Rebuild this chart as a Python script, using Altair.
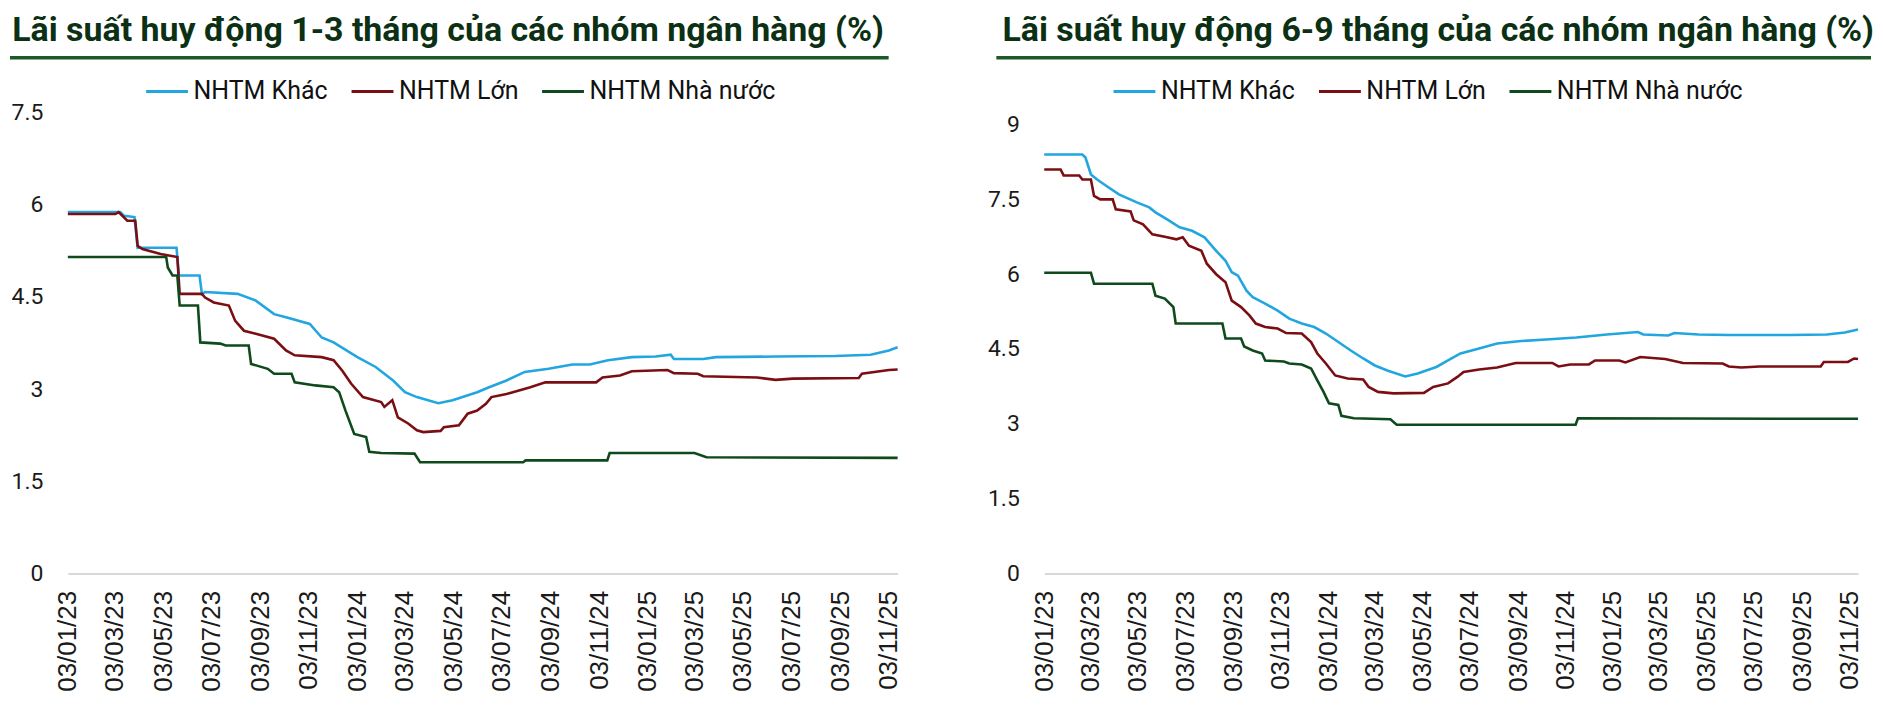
import altair as alt
import pandas as pd

SERIES = ["NHTM Khác", "NHTM Lớn", "NHTM Nhà nước"]
COLORS = ["#22a6df", "#7b0e12", "#0f4a1c"]

TITLE_LEFT = "Lãi suất huy động 1-3 tháng của các nhóm ngân hàng (%)"
TITLE_RIGHT = "Lãi suất huy động 6-9 tháng của các nhóm ngân hàng (%)"

TICK_DATES = ["2023-01-03", "2023-03-03", "2023-05-03", "2023-07-03", "2023-09-03", "2023-11-03",
              "2024-01-03", "2024-03-03", "2024-05-03", "2024-07-03", "2024-09-03", "2024-11-03",
              "2025-01-03", "2025-03-03", "2025-05-03", "2025-07-03", "2025-09-03", "2025-11-03"]
X_START = "2023-01-03"
X_END = "2025-11-14"

Y_TICKS_LEFT = [0, 1.5, 3, 4.5, 6, 7.5]
Y_TICKS_RIGHT = [0, 1.5, 3, 4.5, 6, 7.5, 9]

# ---- 1-3 month deposit rates ----
KHAC13_DATES = ["2023-01-03", "2023-03-10", "2023-03-15", "2023-03-28", "2023-04-01", "2023-05-20",
                "2023-05-23", "2023-06-18", "2023-06-21", "2023-06-25", "2023-08-05", "2023-08-28",
                "2023-09-20", "2023-10-05", "2023-11-04", "2023-11-19", "2023-12-04", "2024-01-03",
                "2024-01-26", "2024-02-17", "2024-03-03", "2024-03-18", "2024-04-14", "2024-05-02",
                "2024-06-02", "2024-06-17", "2024-07-09", "2024-08-01", "2024-08-31", "2024-09-30",
                "2024-10-22", "2024-11-14", "2024-12-14", "2025-01-13", "2025-02-01", "2025-02-05",
                "2025-03-14", "2025-03-30", "2025-06-13", "2025-08-27", "2025-10-11", "2025-11-03",
                "2025-11-14"]
KHAC13_VALUES = [5.88, 5.88, 5.82, 5.80, 5.30, 5.30, 4.85, 4.85, 4.55, 4.58, 4.55, 4.44, 4.22, 4.17,
                 4.06, 3.84, 3.76, 3.52, 3.36, 3.14, 2.95, 2.87, 2.77, 2.82, 2.95, 3.03, 3.14, 3.28,
                 3.33, 3.40, 3.40, 3.47, 3.52, 3.53, 3.56, 3.49, 3.49, 3.52, 3.53, 3.54, 3.56, 3.63,
                 3.68]

LON13_DATES = ["2023-01-03", "2023-03-04", "2023-03-08", "2023-03-19", "2023-03-29", "2023-04-01",
               "2023-04-07", "2023-04-30", "2023-05-21", "2023-05-24", "2023-06-21", "2023-06-25",
               "2023-07-06", "2023-07-25", "2023-08-02", "2023-08-13", "2023-08-28", "2023-09-20",
               "2023-10-05", "2023-10-16", "2023-11-19", "2023-12-04", "2023-12-15", "2023-12-26",
               "2024-01-10", "2024-02-02", "2024-02-06", "2024-02-16", "2024-02-23", "2024-03-07",
               "2024-03-18", "2024-03-26", "2024-04-17", "2024-04-21", "2024-05-10", "2024-05-21",
               "2024-06-02", "2024-06-13", "2024-06-20", "2024-07-09", "2024-07-17", "2024-08-08",
               "2024-08-27", "2024-10-30", "2024-11-07", "2024-11-29", "2024-12-14", "2025-01-28",
               "2025-02-05", "2025-03-07", "2025-03-14", "2025-05-21", "2025-06-13", "2025-07-05",
               "2025-09-26", "2025-09-30", "2025-11-03", "2025-11-14"]
LON13_VALUES = [5.85, 5.85, 5.88, 5.74, 5.74, 5.33, 5.28, 5.20, 5.15, 4.55, 4.55, 4.49, 4.41, 4.36,
                4.11, 3.95, 3.90, 3.82, 3.63, 3.55, 3.52, 3.47, 3.30, 3.09, 2.87, 2.79, 2.71, 2.82,
                2.54, 2.44, 2.33, 2.30, 2.32, 2.38, 2.41, 2.60, 2.65, 2.76, 2.87, 2.92, 2.95, 3.03,
                3.11, 3.11, 3.19, 3.22, 3.29, 3.31, 3.26, 3.25, 3.21, 3.19, 3.15, 3.17, 3.18, 3.25,
                3.31, 3.32]

NN13_DATES = ["2023-01-03", "2023-05-07", "2023-05-09", "2023-05-15", "2023-05-21", "2023-05-24",
              "2023-06-16", "2023-06-19", "2023-07-14", "2023-07-21", "2023-08-19", "2023-08-22",
              "2023-09-12", "2023-09-20", "2023-10-12", "2023-10-16", "2023-11-11", "2023-12-04",
              "2023-12-11", "2023-12-19", "2023-12-30", "2024-01-14", "2024-01-18", "2024-02-02",
              "2024-03-15", "2024-03-22", "2024-07-30", "2024-08-02", "2024-11-13", "2024-11-16",
              "2025-03-03", "2025-03-18", "2025-11-14"]
NN13_VALUES = [5.15, 5.15, 4.98, 4.85, 4.85, 4.36, 4.36, 3.76, 3.74, 3.71, 3.71, 3.41, 3.33, 3.25,
               3.25, 3.11, 3.06, 3.03, 2.95, 2.65, 2.27, 2.22, 1.98, 1.96, 1.95, 1.81, 1.81, 1.84,
               1.84, 1.96, 1.96, 1.89, 1.88]

# ---- 6-9 month deposit rates ----
KHAC69_DATES = ["2023-01-03", "2023-02-21", "2023-02-25", "2023-03-04", "2023-03-12", "2023-03-24",
                "2023-04-09", "2023-05-02", "2023-05-18", "2023-05-26", "2023-06-10", "2023-06-26",
                "2023-07-12", "2023-07-28", "2023-08-12", "2023-08-24", "2023-09-01", "2023-09-09",
                "2023-09-20", "2023-09-28", "2023-10-14", "2023-10-30", "2023-11-14", "2023-11-30",
                "2023-12-16", "2023-12-31", "2024-01-16", "2024-02-01", "2024-02-17", "2024-03-03",
                "2024-03-19", "2024-04-11", "2024-04-27", "2024-05-21", "2024-06-05", "2024-06-21",
                "2024-07-15", "2024-08-07", "2024-09-07", "2024-10-09", "2024-11-17", "2024-12-26",
                "2025-02-04", "2025-02-11", "2025-03-15", "2025-03-23", "2025-04-23", "2025-06-01",
                "2025-08-19", "2025-10-05", "2025-10-28", "2025-11-14"]
KHAC69_VALUES = [8.40, 8.40, 8.34, 8.00, 7.90, 7.77, 7.60, 7.44, 7.34, 7.24, 7.10, 6.94, 6.87, 6.74,
                 6.47, 6.27, 6.04, 5.97, 5.67, 5.54, 5.41, 5.27, 5.11, 5.01, 4.94, 4.81, 4.64, 4.47,
                 4.31, 4.17, 4.07, 3.95, 4.01, 4.14, 4.27, 4.41, 4.51, 4.61, 4.66, 4.69, 4.73, 4.79,
                 4.84, 4.79, 4.77, 4.82, 4.79, 4.78, 4.78, 4.79, 4.83, 4.89]

LON69_DATES = ["2023-01-03", "2023-01-24", "2023-01-28", "2023-02-17", "2023-02-21", "2023-03-04",
               "2023-03-08", "2023-03-16", "2023-04-01", "2023-04-05", "2023-04-24", "2023-04-28",
               "2023-05-10", "2023-05-22", "2023-06-07", "2023-06-22", "2023-06-30", "2023-07-08",
               "2023-07-24", "2023-07-31", "2023-08-12", "2023-08-24", "2023-09-01", "2023-09-13",
               "2023-09-24", "2023-10-02", "2023-10-14", "2023-10-30", "2023-11-10", "2023-11-30",
               "2023-12-12", "2023-12-20", "2023-12-31", "2024-01-12", "2024-01-28", "2024-02-17",
               "2024-02-24", "2024-03-07", "2024-03-27", "2024-05-05", "2024-05-17", "2024-06-05",
               "2024-06-17", "2024-06-25", "2024-07-15", "2024-08-07", "2024-08-31", "2024-10-17",
               "2024-10-25", "2024-11-09", "2024-12-03", "2024-12-11", "2025-01-11", "2025-01-19",
               "2025-02-07", "2025-03-11", "2025-04-03", "2025-05-24", "2025-06-01", "2025-06-17",
               "2025-07-10", "2025-09-27", "2025-10-01", "2025-11-01", "2025-11-09", "2025-11-14"]
LON69_VALUES = [8.10, 8.10, 7.98, 7.98, 7.90, 7.90, 7.57, 7.50, 7.50, 7.30, 7.26, 7.08, 7.00, 6.80,
                6.75, 6.70, 6.74, 6.57, 6.47, 6.21, 6.00, 5.84, 5.47, 5.34, 5.17, 5.01, 4.94, 4.91,
                4.82, 4.81, 4.64, 4.41, 4.21, 3.97, 3.91, 3.89, 3.74, 3.64, 3.61, 3.62, 3.74, 3.81,
                3.94, 4.04, 4.09, 4.13, 4.22, 4.22, 4.15, 4.19, 4.19, 4.27, 4.27, 4.23, 4.34, 4.30,
                4.22, 4.21, 4.15, 4.13, 4.15, 4.15, 4.24, 4.24, 4.31, 4.30]

NN69_DATES = ["2023-01-03", "2023-03-04", "2023-03-08", "2023-05-22", "2023-05-26", "2023-06-07",
              "2023-06-18", "2023-06-21", "2023-08-20", "2023-08-24", "2023-09-13", "2023-09-17",
              "2023-09-28", "2023-10-10", "2023-10-14", "2023-11-07", "2023-11-14", "2023-11-30",
              "2023-12-12", "2023-12-20", "2023-12-28", "2024-01-04", "2024-01-16", "2024-01-20",
              "2024-02-05", "2024-03-23", "2024-03-31", "2024-11-16", "2024-11-19", "2025-11-14"]
NN69_VALUES = [6.03, 6.03, 5.81, 5.81, 5.57, 5.51, 5.34, 5.01, 5.01, 4.71, 4.71, 4.55, 4.47, 4.41,
               4.27, 4.25, 4.21, 4.19, 4.11, 3.87, 3.64, 3.41, 3.38, 3.16, 3.11, 3.09, 2.98, 2.98,
               3.11, 3.10]


def to_ms(s):
    return int(pd.Timestamp(s, tz="UTC").value // 10**6)


def build_frame(date_lists, value_lists):
    rows = []
    for name, dates, vals in zip(SERIES, date_lists, value_lists):
        for d, v in zip(dates, vals):
            rows.append({"date": d, "value": v, "series": name})
    return pd.DataFrame(rows)


TICK_MS = [to_ms(d) for d in TICK_DATES]
X_DOMAIN = [to_ms(X_START), to_ms(X_END)]

TITLE_COLOR = "#0b3014"
RULE_COLOR = "#1b5a27"
HEIGHT = 462


def panel(df, title, y_max, y_ticks, width, legend_x, legend_y, rule_x1, rule_x2, title_dx):
    x_enc = alt.X(
        "date:T",
        title=None,
        scale=alt.Scale(type="utc", domain=X_DOMAIN, nice=False),
        axis=alt.Axis(
            values=TICK_MS,
            labelExpr="utcFormat(datum.value, '%d/%m/%y')",
            labelAngle=270,
            labelFont="Liberation Sans",
            labelFontSize=26,
            labelColor="#1a1a1a",
            labelPadding=17,
            labelOverlap=False,
            labelFlush=False,
            ticks=False,
            tickSize=0,
            grid=False,
            domain=True,
            domainColor="#d9d9d9",
            domainWidth=2,
        ),
    )
    y_enc = alt.Y(
        "value:Q",
        title=None,
        scale=alt.Scale(domain=[0, y_max], nice=False, zero=True),
        axis=alt.Axis(
            values=y_ticks,
            labelExpr="format(datum.value, '.2~f')",
            labelFont="Roboto",
            labelFontSize=23,
            labelColor="#1a1a1a",
            labelPadding=25,
            ticks=False,
            tickSize=0,
            grid=False,
            domain=False,
        ),
    )
    color_enc = alt.Color(
        "series:N",
        scale=alt.Scale(domain=SERIES, range=COLORS),
        legend=alt.Legend(
            title=None,
            orient="none",
            legendX=legend_x,
            legendY=legend_y,
            direction="horizontal",
            symbolType="stroke",
            symbolSize=1764,
            symbolStrokeWidth=3,
            labelFont="Roboto",
            labelFontSize=25,
            labelColor="#111111",
            labelLimit=400,
            labelOffset=4,
            columnPadding=17,
        ),
    )
    lines = alt.Chart(df).mark_line(strokeWidth=2.6).encode(x=x_enc, y=y_enc, color=color_enc)
    rule = alt.Chart(pd.DataFrame({"k": [0]})).mark_rule(color=RULE_COLOR, strokeWidth=3.5).encode(
        x=alt.value(rule_x1), x2=alt.value(rule_x2), y=alt.value(-55)
    )
    return alt.layer(lines, rule).properties(
        width=width,
        height=HEIGHT,
        title=alt.TitleParams(
            text=title,
            anchor="start",
            frame="bounds",
            font="Roboto",
            fontSize=34,
            fontWeight="bold",
            color=TITLE_COLOR,
            offset=8,
            dx=title_dx,
        ),
    )


left_df = build_frame([KHAC13_DATES, LON13_DATES, NN13_DATES], [KHAC13_VALUES, LON13_VALUES, NN13_VALUES])
right_df = build_frame([KHAC69_DATES, LON69_DATES, NN69_DATES], [KHAC69_VALUES, LON69_VALUES, NN69_VALUES])

left = panel(left_df, TITLE_LEFT, 7.5, Y_TICKS_LEFT, 832, 77, -44, -58, 823, 4)
right = panel(right_df, TITLE_RIGHT, 9.24, Y_TICKS_RIGHT, 816, 68, -44, -48, 829, 15)

chart = (
    alt.hconcat(left, right, spacing=84)
    .resolve_scale(color="independent", x="independent", y="independent")
    .resolve_legend(color="independent")
    .properties(padding={"left": 0, "top": 5, "right": 0, "bottom": 0}, background="white")
    .configure_view(stroke=None)
)

chart.save("out.html", embed_options={"renderer": "svg", "actions": False})
